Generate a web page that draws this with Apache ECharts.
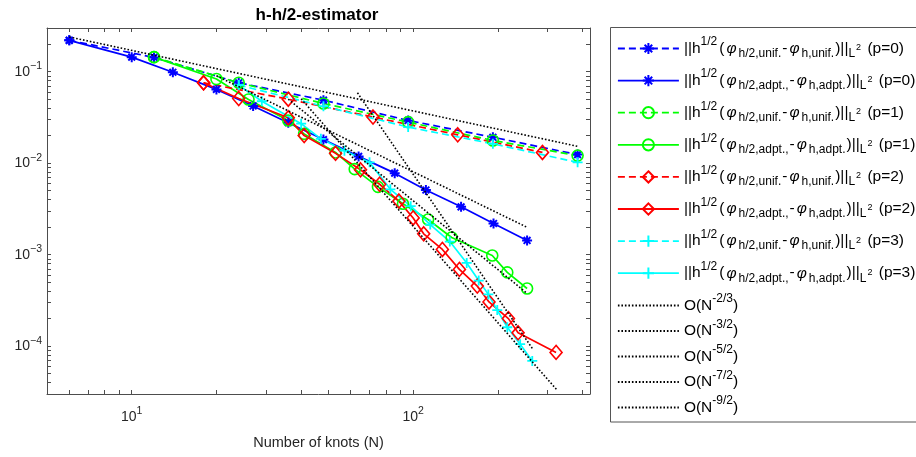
<!DOCTYPE html>
<html><head><meta charset="utf-8">
<script src="https://cdn.jsdelivr.net/npm/echarts@6/dist/echarts.min.js"></script>
<style>html,body{margin:0;padding:0;background:#fff}#c{width:916px;height:457px}</style>
</head><body><div id="c"></div>
<script>
// ---------- data ----------
const nUnifP0 = [6, 12, 24, 48, 96, 192, 384];
const vUnifP0 = [0.22, 0.143, 0.0756, 0.0488, 0.0293, 0.0192, 0.0124];
const nAdptP0 = [6, 10, 14, 20, 27, 36, 48, 64, 86, 111, 148, 193, 254];
const vAdptP0 = [0.22, 0.144, 0.0985, 0.064, 0.0422, 0.0277, 0.0181, 0.01186, 0.00778, 0.00509, 0.00333, 0.00219, 0.00143];
const nUnifP1 = [12, 24, 48, 96, 192, 384];
const vUnifP1 = [0.144, 0.0756, 0.0449, 0.0281, 0.0177, 0.0121];
const nAdptP1 = [12, 20, 26, 36, 41, 53, 62, 75, 92, 113, 137, 191, 216, 254];
const vAdptP1 = [0.144, 0.083, 0.0497, 0.0293, 0.0209, 0.0131, 0.0086, 0.0055, 0.0036, 0.00242, 0.00154, 0.00098, 0.00064, 0.000427];
const nUnifP2 = [18, 36, 72, 144, 288];
const vUnifP2 = [0.0756, 0.050, 0.0319, 0.0204, 0.0131];
const nAdptP2 = [18, 24, 36, 41, 53, 65, 76, 89, 100, 109, 127, 146, 169, 186, 218, 236, 322];
const vAdptP2 = [0.0756, 0.0509, 0.0313, 0.02, 0.0128, 0.00846, 0.00588, 0.00385, 0.00252, 0.00169, 0.00114, 0.00069, 0.000453, 0.000304, 0.0002, 0.00014, 0.0000855];
const nUnifP3 = [24, 48, 96, 192, 384];
const vUnifP3 = [0.0713, 0.0419, 0.0248, 0.01626, 0.0102];
const nAdptP3 = [24, 29, 40, 47, 57, 70, 83, 98, 115, 135, 155, 171, 185, 199, 216, 240, 265];
const vAdptP3 = [0.0713, 0.0475, 0.027, 0.01845, 0.0137, 0.0102, 0.00518, 0.00339, 0.00213, 0.00139, 0.000812, 0.000521, 0.000368, 0.000248, 0.000161, 0.000105, 0.000069];
const nRef23 = [6, 384];    const vRef23 = [0.2395, 0.01527];
const nRef32 = [20, 254];   const vRef32 = [0.09, 0.00199];
const nRef52 = [36, 254];   const vRef52 = [0.05, 0.000378];
const nRef72 = [40, 323];   const vRef72 = [0.0504, 0.0000337];
const nRef92 = [63.4, 265]; const vRef92 = [0.0587, 0.0000946];

const xTickLabels = [10, 100];
const yTickLabels = [1e-4, 1e-3, 1e-2, 1e-1];
const xTicks = [6, 7, 8, 9, 10, 20, 30, 40, 50, 60, 70, 80, 90, 100, 200, 300, 400];
const yTicks = [4e-5, 5e-5, 6e-5, 7e-5, 8e-5, 9e-5, 1e-4, 2e-4, 3e-4, 4e-4, 5e-4, 6e-4, 7e-4, 8e-4, 9e-4,
  1e-3, 2e-3, 3e-3, 4e-3, 5e-3, 6e-3, 7e-3, 8e-3, 9e-3, 1e-2, 2e-2, 3e-2, 4e-2, 5e-2, 6e-2, 7e-2, 8e-2, 9e-2, 0.1, 0.2];

const titleText = 'h-h/2-estimator';
const xName = 'Number of knots (N)';

// ---------- styling ----------
const FONT = 'Liberation Sans, Arial, Helvetica, sans-serif';
const AX = '#4d4d4d';
const STAR = 'path://M5,0L5,10M0,5L10,5M1.6,1.6L8.4,8.4M1.6,8.4L8.4,1.6';
const PLUS = 'path://M5,0L5,10M0,5L10,5';
const CIRC = 'path://M10,5A5,5,0,1,1,0,5A5,5,0,1,1,10,5Z';
const DIAM = 'path://M5,0L10,7L5,14L0,7Z';

function pairs(ns, vs) { return ns.map((n, i) => [n, vs[i]]); }

function normText(kind, p) {
  const a = kind === 'u' ? 'h/2,unif.' : 'h/2,adpt.,';
  const b = kind === 'u' ? 'h,unif.' : 'h,adpt.';
  return '{n|||h}{sup|1/2}{n|(}{it|\u03c6}{sub|' + a + '}{n|-}{it|\u03c6}{sub|' + b + '}{n|)||}{sub|L}{l2|2}{n| (p=' + p + ')}';
}
function refText(e) { return '{o|O(N}{osup|' + e + '}{o|)}'; }

const defs = [
  { name: 'u0', ns: nUnifP0, vs: vUnifP0, color: '#0000ff', dash: true,  sym: STAR, size: 10, bw: 2, txt: normText('u', 0) },
  { name: 'a0', ns: nAdptP0, vs: vAdptP0, color: '#0000ff', dash: false, sym: STAR, size: 10, bw: 2, txt: normText('a', 0) },
  { name: 'u1', ns: nUnifP1, vs: vUnifP1, color: '#00ff00', dash: true,  sym: CIRC, size: 11, bw: 1.6, txt: normText('u', 1) },
  { name: 'a1', ns: nAdptP1, vs: vAdptP1, color: '#00ff00', dash: false, sym: CIRC, size: 11, bw: 1.6, txt: normText('a', 1) },
  { name: 'u2', ns: nUnifP2, vs: vUnifP2, color: '#ff0000', dash: true,  sym: DIAM, size: [12, 14], bw: 1.6, txt: normText('u', 2) },
  { name: 'a2', ns: nAdptP2, vs: vAdptP2, color: '#ff0000', dash: false, sym: DIAM, size: [12, 14], bw: 1.6, txt: normText('a', 2) },
  { name: 'u3', ns: nUnifP3, vs: vUnifP3, color: '#00ffff', dash: true,  sym: PLUS, size: 10, bw: 1.8, txt: normText('u', 3) },
  { name: 'a3', ns: nAdptP3, vs: vAdptP3, color: '#00ffff', dash: false, sym: PLUS, size: 10, bw: 1.8, txt: normText('a', 3) }
];
const refs = [
  { name: 'r23', ns: nRef23, vs: vRef23, txt: refText('-2/3') },
  { name: 'r32', ns: nRef32, vs: vRef32, txt: refText('-3/2') },
  { name: 'r52', ns: nRef52, vs: vRef52, txt: refText('-5/2') },
  { name: 'r72', ns: nRef72, vs: vRef72, txt: refText('-7/2') },
  { name: 'r92', ns: nRef92, vs: vRef92, txt: refText('-9/2') }
];
const LABELS = {};
defs.concat(refs).forEach(d => { LABELS[d.name] = d.txt; });

const series = [];
defs.forEach(d => {
  series.push({
    name: d.name, type: 'line', data: pairs(d.ns, d.vs),
    symbol: d.sym, symbolSize: d.size,
    lineStyle: { color: d.color, width: 1.7, type: d.dash ? [7, 4] : 'solid' },
    itemStyle: { color: 'rgba(0,0,0,0)', borderColor: d.color, borderWidth: d.bw },
    emphasis: { disabled: true }, z: 3
  });
});
refs.forEach(d => {
  series.push({
    name: d.name, type: 'line', data: pairs(d.ns, d.vs),
    symbol: 'none', showSymbol: false,
    lineStyle: { color: '#000', width: 1.6, type: [1.6, 1.9] },
    itemStyle: { color: 'rgba(0,0,0,0)' },
    emphasis: { disabled: true }, z: 4
  });
});

function powLabel(v) {
  const l = Math.log10(v), e = Math.round(l);
  if (Math.abs(l - e) > 1e-6) return '';
  return '{b|10}{e|' + String(e).replace('-', '\u2212') + '}';
}
const axisRich = {
  b: { fontFamily: FONT, fontSize: 14, color: '#262626' },
  e: { fontFamily: FONT, fontSize: 10.5, color: '#262626', padding: [0, 0, 11, 0] }
};
function mkX(pos, show) {
  return {
    type: 'log', logBase: 10, min: 5, max: 425, position: pos, gridIndex: 0,
    axisLine: { show: true, onZero: false, lineStyle: { color: AX, width: 1 } },
    axisTick: { show: true, inside: true, length: 4, customValues: xTicks, lineStyle: { color: AX } },
    minorTick: { show: false }, splitLine: { show: false },
    axisLabel: { show: show, margin: 12, formatter: powLabel, rich: axisRich, showMinLabel: false, showMaxLabel: false },
    name: show ? xName : '', nameLocation: 'middle', nameGap: 41,
    nameTextStyle: { fontFamily: FONT, fontSize: 14.5, color: '#262626' }
  };
}
function mkY(pos, show) {
  return {
    type: 'log', logBase: 10, min: 3e-5, max: 0.3, position: pos, gridIndex: 0,
    axisLine: { show: true, onZero: false, lineStyle: { color: AX, width: 1 } },
    axisTick: { show: true, inside: true, length: 4, customValues: yTicks, lineStyle: { color: AX } },
    minorTick: { show: false }, splitLine: { show: false },
    axisLabel: { show: show, margin: 5, formatter: powLabel, rich: axisRich, showMinLabel: false, showMaxLabel: false }
  };
}

const BF = 15.5, SF = 12;
const legendRich = {
  n:   { fontFamily: FONT, fontSize: BF, color: '#000' },
  it:  { fontFamily: FONT, fontSize: BF, color: '#000', fontStyle: 'italic', padding: [0, 2, 0, 2] },
  sup: { fontFamily: FONT, fontSize: SF, color: '#000', padding: [0, 2, 13, 0] },
  sub: { fontFamily: FONT, fontSize: SF, color: '#000', padding: [10, 1, 0, 0] },
  l2:  { fontFamily: FONT, fontSize: 9, color: '#000', padding: [0, 2, 2, 0] },
  o:   { fontFamily: FONT, fontSize: BF, color: '#000' },
  osup:{ fontFamily: FONT, fontSize: SF, color: '#000', padding: [0, 0, 13, 0] }
};
function mkLegend(names, top, gap) {
  return {
    orient: 'vertical', left: 610, top: top, padding: [4, 8, 4, 7], itemGap: gap,
    itemWidth: 61, itemHeight: 14, borderWidth: 0,
    selectedMode: false,
    data: names,
    formatter: name => LABELS[name],
    textStyle: { rich: legendRich, padding: [0, 0, 0, 0] },
    lineStyle: { width: 1.8 }
  };
}

const chart = echarts.init(document.getElementById('c'), null, { renderer: 'canvas' });
chart.setOption({
  animation: false,
  backgroundColor: '#ffffff',
  title: { text: titleText, left: 312, textAlign: 'center', top: 2,
    textStyle: { fontFamily: FONT, fontSize: 17, fontWeight: 'bold', color: '#000' } },
  grid: { left: 47, top: 28, width: 543, height: 366, containLabel: false },
  xAxis: [mkX('bottom', true), mkX('top', false)],
  yAxis: [mkY('left', true), mkY('right', false)],
  legend: [
    mkLegend(defs.map(d => d.name), 32, 8.6),
    mkLegend(refs.map(d => d.name), 289, 5)
  ],
  graphic: [{
    type: 'rect', z: 0, silent: true,
    shape: { x: 610.5, y: 27.5, width: 330, height: 394.5 },
    style: { fill: '#fff', stroke: '#555', lineWidth: 1 }
  }],
  series: series
});
</script></body></html>
